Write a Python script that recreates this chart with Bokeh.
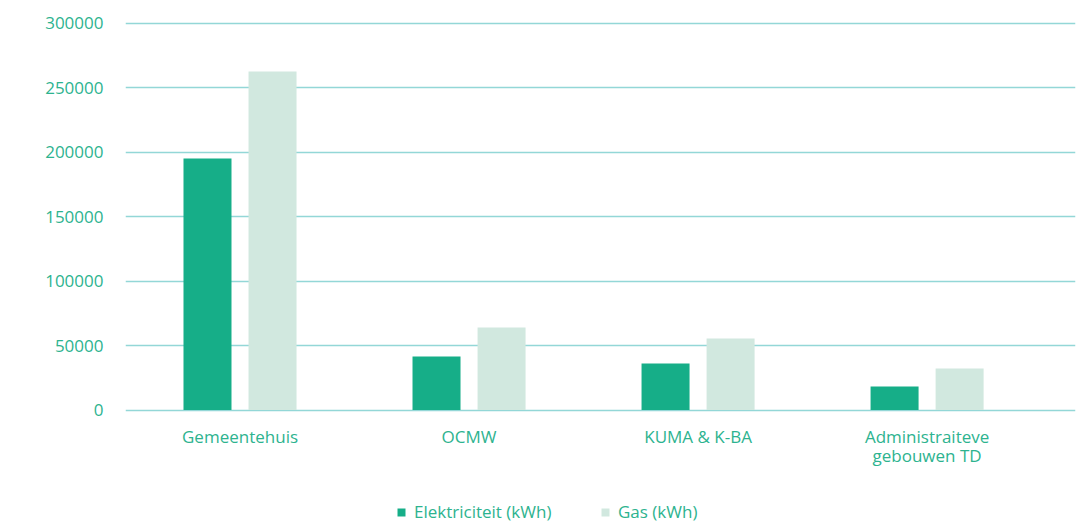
from bokeh.plotting import figure
from bokeh.models import (Range1d, FixedTicker, Legend, LegendItem, ColumnDataSource,
                          NumeralTickFormatter)
from bokeh.core.properties import value
from bokeh.transform import dodge
from bokeh.embed import file_html
from bokeh.resources import INLINE

categories = ["Gemeentehuis", "OCMW", "KUMA & K-BA", "Administraiteve\ngebouwen TD"]
elektriciteit = [195000, 41500, 36000, 18200]
gas = [262500, 64000, 55500, 32200]
y_ticks = [0, 50000, 100000, 150000, 200000, 250000, 300000]
series_labels = ["Elektriciteit (kWh)", "Gas (kWh)"]

FONT = "Open Sans"
TEXT_COLOR = "#2db38f"
ELEK_COLOR = "#16ae88"
GAS_COLOR = "#d1e8df"
GRID_COLOR = "#93d7d7"

xs = list(range(len(categories)))
src = ColumnDataSource(dict(x=xs, elek=elektriciteit, gas=gas, label=categories,
                            base=[0] * len(xs)))

# frame extends to the bottom of the canvas so the category labels and the
# legend (drawn below the zero line) are not clipped
p = figure(width=1080, height=523, output_backend="svg", toolbar_location=None,
           x_range=Range1d(-0.5, 3.648), y_range=Range1d(-88030, 302100),
           min_border_left=125, min_border_right=5, min_border_top=20,
           min_border_bottom=0)
p.outline_line_color = None
p.background_fill_color = "white"
p.border_fill_color = "white"

r1 = p.vbar(x=dodge("x", -0.142, range=p.x_range), top="elek", width=0.2096,
            source=src, fill_color=ELEK_COLOR, line_color=None)
r2 = p.vbar(x=dodge("x", 0.142, range=p.x_range), top="gas", width=0.2096,
            source=src, fill_color=GAS_COLOR, line_color=None)

# category labels under the zero line
p.text(x="x", y="base", text="label", source=src, y_offset=15,
       text_align="center", text_baseline="top",
       text_font=value(FONT), text_font_size="17px", text_color=TEXT_COLOR,
       text_line_height=0.84)

# grid
p.xgrid.visible = False
p.ygrid.ticker = FixedTicker(ticks=y_ticks)
p.ygrid.grid_line_color = GRID_COLOR
p.ygrid.grid_line_width = 1.5
p.ygrid.level = "underlay"

# y axis
p.yaxis.ticker = FixedTicker(ticks=y_ticks)
p.yaxis.formatter = NumeralTickFormatter(format="0")
p.yaxis.axis_line_color = None
p.yaxis.major_tick_line_color = None
p.yaxis.minor_tick_line_color = None
p.yaxis.major_label_standoff = 16
p.yaxis.major_label_text_font = FONT
p.yaxis.major_label_text_font_size = "17px"
p.yaxis.major_label_text_color = TEXT_COLOR

p.xaxis.visible = False

legend = Legend(items=[LegendItem(label=series_labels[0], renderers=[r1]),
                       LegendItem(label=series_labels[1], renderers=[r2])],
                location=(271, 0), orientation="horizontal",
                padding=0, margin=0, spacing=0, label_standoff=8,
                glyph_width=10, glyph_height=10, label_height=16, label_width=186,
                border_line_color=None, background_fill_alpha=0,
                label_text_font=FONT, label_text_font_size="17px",
                label_text_color=TEXT_COLOR)
p.add_layout(legend, "center")

open("out.html", "w").write(file_html(p, INLINE))
